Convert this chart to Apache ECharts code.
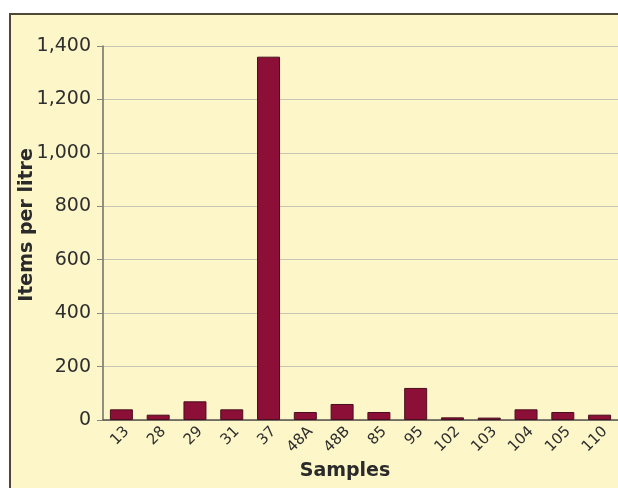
<!DOCTYPE html>
<html>
<head>
<meta charset="utf-8">
<script src="https://cdn.jsdelivr.net/npm/echarts@6/dist/echarts.min.js"></script>
<style>
  html, body { margin: 0; padding: 0; background: #ffffff; }
  #wrap { position: relative; width: 618px; height: 488px; overflow: hidden; }
  #panel { position: absolute; left: 9px; top: 13px; width: 640px; height: 500px;
           background: #fdf6c9; border: 2px solid #4d4838; }
  #chart { position: absolute; left: 0; top: 0; width: 618px; height: 488px; }
</style>
</head>
<body>
<div id="wrap">
  <div id="panel"></div>
  <div id="chart"></div>
</div>
<script>
// Sample identifiers along the horizontal axis
const samples = ['13', '28', '29', '31', '37', '48A', '48B', '85', '95', '102', '103', '104', '105', '110'];
// Items counted per litre for each sample
const itemsPerLitre = [40, 20, 70, 40, 1360, 30, 60, 30, 120, 10, 9, 40, 30, 20];
// Value axis ticks
const yTicks = [0, 200, 400, 600, 800, 1000, 1200, 1400];

const chart = echarts.init(document.getElementById('chart'), null, { renderer: 'canvas' });
const font = '"DejaVu Sans", Verdana, sans-serif';

chart.setOption({
  backgroundColor: 'transparent',
  animation: false,
  grid: { left: 103, top: 46, width: 518, height: 374, containLabel: false },
  xAxis: {
    type: 'category',
    data: samples,
    axisLine: { show: true, lineStyle: { color: '#55524a', width: 1.5 } },
    axisTick: { show: false },
    axisLabel: {
      rotate: 45, margin: 4, fontSize: 15, color: '#2e2e2e', fontFamily: font,
      verticalAlign: 'top', interval: 0
    }
  },
  yAxis: {
    type: 'value',
    min: yTicks[0],
    max: yTicks[yTicks.length - 1],
    interval: yTicks[1] - yTicks[0],
    axisLine: { show: true, lineStyle: { color: '#6f6c64', width: 1.5 } },
    axisTick: { show: true, length: 6, lineStyle: { color: '#8a877f', width: 1 } },
    axisLabel: {
      margin: 12, fontSize: 19, color: '#2e2e2e', fontFamily: font,
      formatter: v => v.toLocaleString('en-US')
    },
    splitLine: { show: true, lineStyle: { color: '#c9c6b6', width: 1.2 } }
  },
  series: [{
    type: 'bar',
    data: itemsPerLitre,
    barWidth: 23,
    itemStyle: { color: '#8b0f36', borderColor: '#4a0f1e', borderWidth: 1 }
  }],
  graphic: [
    {
      type: 'text',
      x: 27, y: 225, rotation: Math.PI / 2,
      style: {
        text: 'Items per litre', font: 'bold 19px ' + font, fill: '#2a2a2a',
        textAlign: 'center', textVerticalAlign: 'middle'
      }
    },
    {
      type: 'text',
      x: 345, y: 471,
      style: {
        text: 'Samples', font: 'bold 19px ' + font, fill: '#2a2a2a',
        textAlign: 'center', textVerticalAlign: 'middle'
      }
    }
  ]
});
</script>
</body>
</html>
